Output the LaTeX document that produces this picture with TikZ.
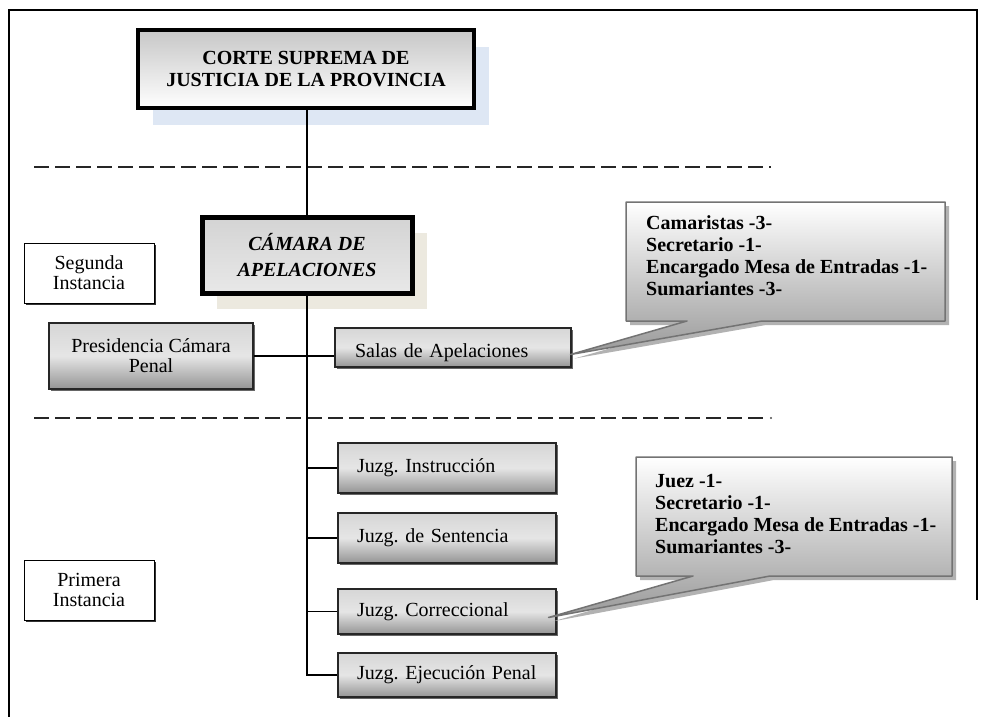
\documentclass[tikz,border=0pt]{standalone}
\usepackage{fontspec}
\setmainfont{Liberation Serif}
\usetikzlibrary{calc,shadows}
\definecolor{shblue}{HTML}{DEE7F4}
\definecolor{shbeige}{HTML}{ECE9DF}
\tikzset{
  frameline/.style={line width=2.2pt, line cap=butt},
  sepline/.style={line width=2pt, dash pattern=on 15pt off 6pt, black!85},
  conn/.style={line width=1.4pt},
  txt/.style={font=\frenchspacing\fontsize{20}{20}\selectfont},
  cortebox/.style={draw, line width=3.5pt, top color=black!22, bottom color=white,
    minimum width=336pt, minimum height=78pt, align=center, inner sep=0pt,
    font=\bfseries\fontsize{20}{22}\selectfont,
    general shadow={fill=shblue, shadow xshift=15pt, shadow yshift=-17pt}},
  camarabox/.style={draw, line width=5pt, top color=black!17, bottom color=black!9,
    minimum width=210pt, minimum height=76pt, align=center, inner sep=0pt,
    font=\bfseries\itshape\fontsize{20}{26.5}\selectfont,
    general shadow={fill=shbeige, shadow xshift=15pt, shadow yshift=-16pt}},
  instbox/.style={draw, line width=1pt, fill=white, minimum width=130pt, minimum height=60pt,
    align=center, inner sep=0pt, txt,
    general shadow={fill=black!80, shadow xshift=1.5pt, shadow yshift=-1.5pt}},
  graybox/.style={draw=black!85, line width=1.1pt, top color=black!16, bottom color=black!42,
    middle color=black!10, inner sep=0pt, txt,
    general shadow={fill=black!60, shadow xshift=1.5pt, shadow yshift=-1.5pt}},
  juzg/.style={graybox, text width=180pt, inner xsep=19pt, align=left},
  callshape/.style={draw=black!55, line width=1.5pt, line join=round, top color=white,
    bottom color=black!40,
    general shadow={fill=black!30, shadow xshift=4pt, shadow yshift=-4pt}},
  calltext/.style={align=left, inner sep=0pt, font=\bfseries\fontsize{20}{22}\selectfont},
}
\begin{document}
\begin{tikzpicture}[x=1pt,y=-1pt]
\useasboundingbox (0,0) rectangle (982,717);
% outer frame
\draw[frameline] (9,717) -- (9,10) -- (977,10) -- (977,600);
% separators
\draw[sepline] (34,167) -- (771,167);
\draw[sepline] (34,418) -- (765,418);
\fill[black!70] (771,418) circle (1.2);

% main nodes
\node[cortebox] (corte) at (306,69) {CORTE SUPREMA DE\\JUSTICIA DE LA PROVINCIA};
\node[camarabox] (camara) at (307,255) {CÁMARA DE\\APELACIONES};
\node[instbox] (seg) at (89,273) {Segunda\\Instancia};
\node[instbox] (prim) at (89,590) {Primera\\Instancia};
\node[graybox, minimum width=204pt, minimum height=66pt, align=center] (pres) at (151,356) {Presidencia Cámara\\Penal};
\node[graybox, text width=196pt, inner xsep=20pt, align=left, minimum height=39pt,
      text height=19pt, text depth=0pt] (salas) at (453,347.5) {Salas de Apelaciones};
\node[juzg, minimum height=50pt] (instr) at (447,468) {\mbox{Juzg. Instrucción}};
\node[juzg, minimum height=50pt] (sent) at (447,538) {\mbox{Juzg. de Sentencia}};
\node[juzg, minimum height=45pt] (corr) at (447,611.5) {\mbox{Juzg. Correccional}};
\node[juzg, minimum height=44pt] (ejec) at (447,675) {\mbox{Juzg. Ejecución Penal}};

% connectors
\draw[conn] (camara.north |- corte.south) -- (camara.north);
\draw[conn] (camara.south) -- (camara.south |- ejec.west) -- (ejec.west);
\draw[conn] (camara.south |- instr.west) -- (instr.west);
\draw[conn] (camara.south |- sent.west) -- (sent.west);
\draw[conn] (camara.south |- corr.west) -- (corr.west);
\draw[conn] (pres.east) -- (pres.east -| salas.west);

% callouts
\path[callshape] (626,202) -- (945,202) -- (945,321) -- (762,321) -- ($(salas.east)+(-1,7)$) -- (687,321) -- (626,321) -- cycle;
\node[calltext, anchor=north west] (call1) at (646,215.5) {Camaristas -3-\\Secretario -1-\\Encargado Mesa de Entradas -1-\\Sumariantes -3-};
\path[callshape] (636,457) -- (952,457) -- (952,576) -- (770,576) -- ($(corr.east)+(-8,6)$) -- (693,576) -- (636,576) -- cycle;
\node[calltext, anchor=north west] (call2) at (655,474.5) {Juez -1-\\Secretario -1-\\Encargado Mesa de Entradas -1-\\Sumariantes -3-};
\end{tikzpicture}
\end{document}
